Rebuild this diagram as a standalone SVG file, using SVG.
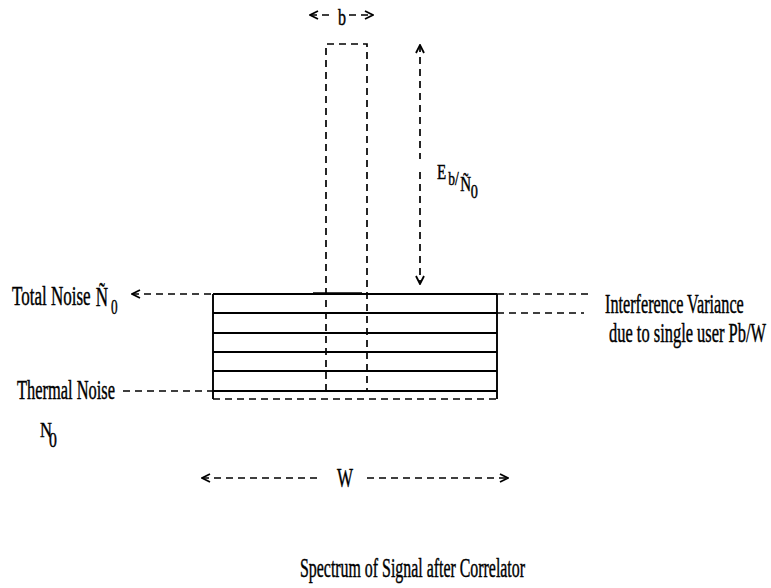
<svg xmlns="http://www.w3.org/2000/svg" width="771" height="588" viewBox="0 0 771 588">
<style>
text{font-family:"Liberation Serif","Times New Roman",serif;fill:#000;stroke:#000;stroke-width:0.45}
.lbl{font-size:27px}
.solid{stroke:#000;stroke-width:1.9;fill:none}
.dash{stroke:#000;stroke-width:1.7;fill:none;stroke-dasharray:7 5}
</style>
<defs>
<marker id="chev" viewBox="0 0 10 10" refX="9" refY="5" markerWidth="10" markerHeight="10" markerUnits="userSpaceOnUse" orient="auto-start-reverse">
<path d="M1,1 L9,5 L1,9" fill="none" stroke="#000" stroke-width="1.8"/>
</marker>
</defs>
<rect width="771" height="588" fill="#fff"/>
<g id="noise-box">
<line class="solid" x1="213" y1="294" x2="497" y2="294"/>
<line class="solid" x1="213" y1="313" x2="497" y2="313"/>
<line class="solid" x1="213" y1="333" x2="497" y2="333"/>
<line class="solid" x1="213" y1="352" x2="497" y2="352"/>
<line class="solid" x1="213" y1="371" x2="497" y2="371"/>
<line class="solid" x1="213" y1="391" x2="497" y2="391"/>
<line class="solid" x1="213" y1="294" x2="213" y2="399"/>
<line class="solid" x1="497" y1="294" x2="497" y2="399"/>
<line class="dash" x1="213" y1="399" x2="497" y2="399"/>
<line stroke="#000" stroke-width="1.6" x1="313" y1="293" x2="362" y2="293"/>
</g>
<g id="signal">
<path class="dash" d="M326,391 V44 H367 V391"/>
</g>
<g id="connectors">
<line class="dash" x1="310" y1="15" x2="334" y2="15" marker-start="url(#chev)"/>
<line class="dash" x1="349" y1="15" x2="373" y2="15" marker-end="url(#chev)"/>
<line class="dash" x1="420" y1="45" x2="420" y2="159" marker-start="url(#chev)"/>
<line class="dash" x1="420" y1="172" x2="420" y2="284" marker-end="url(#chev)"/>
<line class="dash" x1="132" y1="294" x2="213" y2="294" marker-start="url(#chev)"/>
<line class="dash" x1="123" y1="391" x2="213" y2="391"/>
<line class="dash" x1="497" y1="294" x2="593" y2="294"/>
<line class="dash" x1="497" y1="313" x2="584" y2="313"/>
<line class="dash" x1="202" y1="478" x2="318" y2="478" marker-start="url(#chev)"/>
<line class="dash" x1="367" y1="478" x2="508" y2="478" marker-end="url(#chev)"/>
</g>
<g id="labels">
<text x="338" y="25" style="font-size:24px" textLength="8" lengthAdjust="spacingAndGlyphs">b</text>
<text transform="translate(437,179) scale(0.75,1)" style="font-size:20px"><tspan x="0" y="0">E</tspan><tspan x="15" y="6" style="font-size:18px">b/</tspan><tspan x="31" y="12">Ñ</tspan><tspan x="45" y="19" style="font-size:19px">0</tspan></text>
<text class="lbl" transform="translate(12,305) scale(0.63,1)"><tspan x="0" y="0">Total Noise</tspan><tspan x="133" y="1">Ñ</tspan><tspan x="157" y="9" style="font-size:21px">0</tspan></text>
<text class="lbl" transform="translate(17,399) scale(0.608,1)">Thermal Noise</text>
<text transform="translate(40,437) scale(0.75,1)" style="font-size:22px"><tspan x="0" y="0">N</tspan><tspan x="12" y="10" style="font-size:21px">0</tspan></text>
<text class="lbl" transform="translate(605,313) scale(0.601,1)">Interference Variance</text>
<text class="lbl" transform="translate(609,342) scale(0.609,1)">due to single user Pb/W</text>
<text class="lbl" x="337" y="487" textLength="16" lengthAdjust="spacingAndGlyphs">W</text>
<text class="lbl" x="300" y="577" textLength="225" lengthAdjust="spacingAndGlyphs">Spectrum of Signal after Correlator</text>
</g>
</svg>
